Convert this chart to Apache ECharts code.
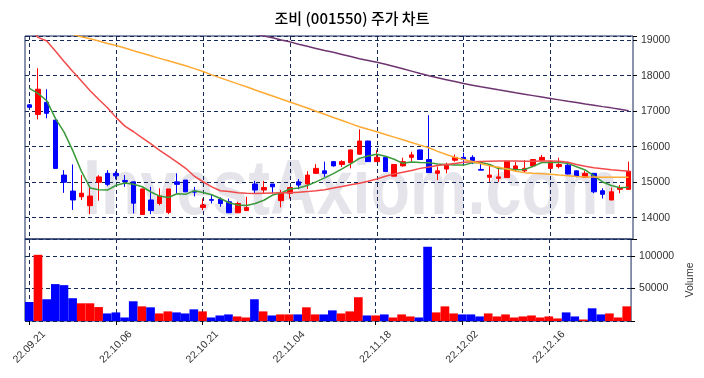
<!DOCTYPE html>
<html>
<head>
<meta charset="utf-8">
<script src="https://cdn.jsdelivr.net/npm/echarts@6/dist/echarts.min.js"></script>
<style>
  html, body { margin: 0; padding: 0; background: #fff; }
  #chart { width: 704px; height: 378px; }
</style>
</head>
<body>
<div id="chart"></div>
<script>
// 거래일
const dates = [
  '22.09.21', '22.09.22', '22.09.23', '22.09.26', '22.09.27', '22.09.28', '22.09.29', '22.09.30',
  '22.10.04', '22.10.05', '22.10.06', '22.10.07', '22.10.11', '22.10.12', '22.10.13', '22.10.14',
  '22.10.17', '22.10.18', '22.10.19', '22.10.20', '22.10.21', '22.10.24', '22.10.25', '22.10.26',
  '22.10.27', '22.10.28', '22.10.31', '22.11.01', '22.11.02', '22.11.03', '22.11.04', '22.11.07',
  '22.11.08', '22.11.09', '22.11.10', '22.11.11', '22.11.14', '22.11.15', '22.11.16', '22.11.17',
  '22.11.18', '22.11.21', '22.11.22', '22.11.23', '22.11.24', '22.11.25', '22.11.28', '22.11.29',
  '22.11.30', '22.12.01', '22.12.02', '22.12.05', '22.12.06', '22.12.07', '22.12.08', '22.12.09',
  '22.12.12', '22.12.13', '22.12.14', '22.12.15', '22.12.16', '22.12.19', '22.12.20', '22.12.21',
  '22.12.22', '22.12.23', '22.12.26', '22.12.27', '22.12.28', '22.12.29'
];

const opens = [
  17180, 16910, 17250, 16750, 15200, 14750, 14590, 14340, 15000, 15250,
  15250, 15050, 15010, 14090, 14500, 14400, 14150, 15010, 15060, 14750,
  14290, 14510, 14520, 14450, 14140, 14200, 14950, 14780, 14950, 14480,
  14690, 15010, 14950, 15250, 15320, 15580, 15500, 15550, 15790, 16160,
  15580, 15700, 15170, 15460, 15700, 15910, 15640, 15250, 15370, 15620,
  15700, 15700, 15360, 15140, 15110, 15130, 15360, 15320, 15460, 15620,
  15390, 15440, 15480, 15320, 15140, 15250, 14760, 14500, 14800, 14800
];
const closes = [
  17110, 17620, 16940, 15390, 15000, 14500, 14690, 14610, 15150, 14940,
  15180, 15020, 14410, 14810, 14200, 14610, 14810, 14940, 14730, 14720,
  14360, 14490, 14400, 14140, 14400, 14290, 14780, 14850, 14870, 14690,
  14850, 14920, 15200, 15390, 15250, 15460, 15580, 15910, 16160, 15580,
  15700, 15300, 15500, 15580, 15770, 15640, 15270, 15320, 15480, 15700,
  15640, 15610, 15340, 15200, 15150, 15590, 15460, 15390, 15640, 15700,
  15580, 15500, 15230, 15170, 15250, 14730, 14660, 14730, 14850, 15310
];
const lows = [
  17080, 16770, 16800, 15380, 14700, 14220, 14500, 14100, 14480, 14890,
  15080, 14870, 14120, 14090, 14100, 14350, 14100, 14690, 14720, 14600,
  14215, 14400, 14310, 14130, 14130, 14190, 14670, 14690, 14690, 14290,
  14540, 14800, 14810, 15240, 15150, 15440, 15430, 15390, 15780, 15570,
  15570, 15290, 15170, 15440, 15580, 15630, 15260, 15060, 15250, 15580,
  15510, 15510, 15330, 15010, 15010, 15120, 15290, 15290, 15420, 15610,
  15380, 15390, 15220, 15140, 15130, 14690, 14540, 14490, 14690, 14790
];
const highs = [
  17200, 18210, 17620, 16760, 15340, 15500, 15200, 14890, 15200, 15340,
  15310, 15200, 15020, 14820, 14870, 14830, 14810, 15250, 15060, 14870,
  14540, 14640, 14570, 14540, 14450, 14590, 15040, 15040, 14950, 14780,
  14870, 15090, 15310, 15510, 15580, 15590, 15620, 15920, 16490, 16170,
  15900, 15710, 15510, 15690, 15860, 15920, 16890, 15440, 15550, 15780,
  15830, 15760, 15580, 15480, 15440, 15600, 15580, 15620, 15650, 15770,
  15620, 15690, 15580, 15330, 15320, 15260, 14830, 14850, 14920, 15580
];
const volumes = [
  29200, 101700, 33400, 56700, 55100, 35000, 27200, 27200, 21400, 11600,
  13200, 5400, 30300, 22500, 21000, 11600, 14750, 13200, 11600, 17900,
  14750, 5400, 8500, 10100, 7000, 5400, 33400, 14750, 8500, 10100,
  10100, 10100, 21000, 10100, 10100, 16300, 11600, 14750, 36500, 8500,
  8500, 10100, 5400, 10100, 7000, 5400, 114100, 13200, 22500, 11600,
  10100, 10100, 7000, 11600, 7000, 10100, 5400, 7000, 8500, 5400,
  7000, 3900, 13200, 7000, 2300, 19500, 10100, 11600, 5400, 22500
];

// 이동평균
const ma5 = [
  17646, 17505, 17297, 16800, 16412, 15890, 15304, 14838, 14790, 14778,
  14914, 14980, 14940, 14872, 14724, 14610, 14568, 14674, 14658, 14762,
  14712, 14648, 14540, 14422, 14358, 14344, 14402, 14492, 14638, 14696,
  14808, 14836, 14906, 15010, 15122, 15244, 15376, 15518, 15672, 15738,
  15786, 15730, 15648, 15532, 15570, 15558, 15552, 15516, 15496, 15482,
  15482, 15550, 15554, 15498, 15388, 15378, 15348, 15358, 15446, 15556,
  15554, 15562, 15530, 15436, 15346, 15176, 15008, 14908, 14844, 14856
];
const ma20 = [
  19400, 19080, 18980, 18700, 18400, 18120, 17850, 17580, 17330, 17100,
  16820, 16580, 16422, 16250, 16080, 15900, 15735, 15565, 15392, 15170,
  15013, 14870, 14760, 14740, 14705, 14690, 14685, 14690, 14695, 14700,
  14705, 14720, 14735, 14760, 14790, 14840, 14880, 14930, 14970, 15030,
  15090, 15170, 15230, 15280, 15330, 15390, 15430, 15470, 15500, 15530,
  15560, 15580, 15585, 15590, 15595, 15600, 15600, 15590, 15590, 15595,
  15600, 15590, 15560, 15500, 15450, 15410, 15380, 15350, 15330, 15310
];
const ma60 = [
  null, null, null, null, null, 19160, 19100, 19040, 18980, 18910,
  18850, 18780, 18705, 18634, 18563, 18490, 18420, 18350, 18280, 18200,
  18120, 18025, 17940, 17855, 17770, 17690, 17600, 17515, 17430, 17345,
  17262, 17175, 17090, 17000, 16915, 16825, 16740, 16650, 16565, 16490,
  16420, 16345, 16270, 16195, 16120, 16045, 15970, 15870, 15780, 15700,
  15640, 15585, 15520, 15460, 15420, 15370, 15310, 15270, 15250, 15240,
  15225, 15200, 15180, 15160, 15150, 15145, 15140, 15140, 15140, 15140
];
const ma120 = [
  null, null, null, null, null, null, null, null, null, null,
  null, null, null, null, null, null, null, null, null, null,
  null, null, null, null, null, null, 19170, 19120, 19070, 19010,
  18955, 18890, 18830, 18770, 18710, 18660, 18600, 18540, 18480, 18430,
  18380, 18325, 18260, 18195, 18130, 18065, 18000, 17945, 17890, 17835,
  17780, 17735, 17690, 17650, 17605, 17565, 17520, 17480, 17440, 17400,
  17360, 17320, 17280, 17245, 17205, 17170, 17130, 17095, 17055, 17015
];

const priceTicks = [14000, 15000, 16000, 17000, 18000, 19000];
const volumeTicks = [50000, 100000];

const UP = '#ff0000';
const DOWN = '#0000ff';
const GRID = '#14285a';
const FONT = '"Liberation Sans", Arial, sans-serif';

const candles = dates.map((d, i) => [opens[i], closes[i], lows[i], highs[i]]);
const volBars = volumes.map((v, i) => ({
  value: v,
  itemStyle: { color: closes[i] >= opens[i] ? UP : DOWN }
}));

const every10 = (idx) => idx % 10 === 0;
const dashed = { color: GRID, type: [4, 3], width: 1 };

const chart = echarts.init(document.getElementById('chart'));
chart.setOption({
  animation: false,
  backgroundColor: '#fff',
  title: {
    text: '조비 (001550) 주가 차트',
    left: 'center',
    top: 6,
    textStyle: { fontFamily: '"Noto Sans CJK KR"', fontSize: 15, fontWeight: 500, color: '#000' }
  },
  graphic: [{
    type: 'text',
    x: 83,
    y: 231,
    scaleX: 0.84,
    z: -1,
    style: {
      text: 'InvestAxiom.com',
      font: 'bold 77px "Liberation Sans"',
      fill: '#e4e4ea',
      textVerticalAlign: 'bottom'
    }
  }],
  grid: [
    { left: 25, right: 71, top: 36, height: 203, show: true, borderColor: GRID, borderWidth: 1 },
    { left: 25, right: 71, top: 239, height: 82, show: true, borderColor: GRID, borderWidth: 1 }
  ],
  xAxis: [
    {
      type: 'category', gridIndex: 0, data: dates, boundaryGap: true,
      axisLine: { show: false }, axisTick: { show: false }, axisLabel: { show: false },
      splitLine: { show: true, interval: every10, alignWithLabel: true, lineStyle: dashed }
    },
    {
      type: 'category', gridIndex: 1, data: dates, boundaryGap: true,
      axisLine: { show: false },
      axisTick: { show: true, interval: every10, alignWithLabel: true, length: 4, lineStyle: { color: '#000' } },
      axisLabel: {
        interval: every10, rotate: 45, align: 'center', verticalAlign: 'middle', margin: 26,
        fontSize: 10.5, color: '#333', fontFamily: FONT
      },
      splitLine: { show: true, interval: every10, alignWithLabel: true, lineStyle: dashed }
    }
  ],
  yAxis: [
    {
      type: 'value', gridIndex: 0, position: 'right', min: 13400, max: 19120, scale: true,
      axisLine: { show: false },
      axisTick: { show: true, length: 4, lineStyle: { color: '#000' } },
      axisLabel: {
        fontSize: 10.5, color: '#333', fontFamily: FONT, margin: 8,
        formatter: (v) => priceTicks.includes(v) ? String(v) : ''
      },
      splitLine: { show: true, lineStyle: dashed }
    },
    {
      type: 'value', gridIndex: 1, position: 'right', min: 0, max: 126000, interval: 50000,
      axisLine: { show: false },
      axisTick: { show: true, length: 4, lineStyle: { color: '#000' } },
      axisLabel: {
        fontSize: 10.5, color: '#333', fontFamily: FONT, margin: 8,
        formatter: (v) => volumeTicks.includes(v) ? String(v) : ''
      },
      splitLine: { show: true, lineStyle: dashed },
      name: 'Volume', nameLocation: 'middle', nameRotate: 90, nameGap: 50,
      nameTextStyle: { fontSize: 10.5, color: '#333', fontFamily: FONT }
    }
  ],
  series: [
    {
      type: 'candlestick', xAxisIndex: 0, yAxisIndex: 0, data: candles, barWidth: 5,
      itemStyle: { color: UP, color0: DOWN, borderColor: UP, borderColor0: DOWN, borderWidth: 1 }
    },
    { type: 'line', xAxisIndex: 0, yAxisIndex: 0, data: ma5, symbol: 'none', z: 3,
      lineStyle: { color: '#3a9a3a', width: 1.5 } },
    { type: 'line', xAxisIndex: 0, yAxisIndex: 0, data: ma20, symbol: 'none', z: 3,
      lineStyle: { color: '#f24a4a', width: 1.5 } },
    { type: 'line', xAxisIndex: 0, yAxisIndex: 0, data: ma60, symbol: 'none', z: 3,
      lineStyle: { color: '#ffaa33', width: 1.5 } },
    { type: 'line', xAxisIndex: 0, yAxisIndex: 0, data: ma120, symbol: 'none', z: 3,
      lineStyle: { color: '#6e3470', width: 1.5 } },
    {
      type: 'bar', xAxisIndex: 1, yAxisIndex: 1, data: volBars, barCategoryGap: 0
    }
  ]
});
</script>
</body>
</html>
